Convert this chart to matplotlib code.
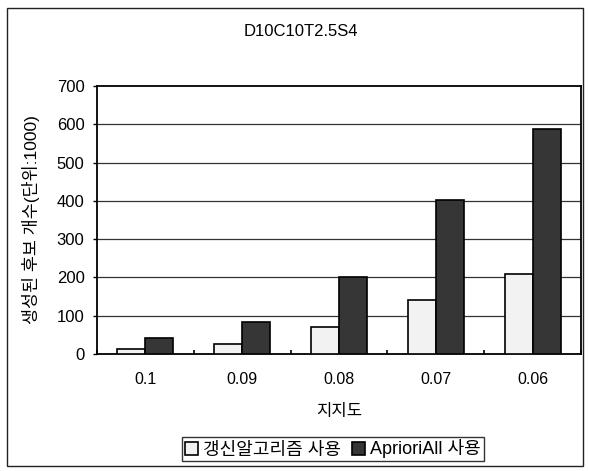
import matplotlib
matplotlib.use("Agg")
import matplotlib.pyplot as plt
from matplotlib.patches import Rectangle
import numpy as np

plt.rcParams['font.family'] = ['Liberation Sans', 'Noto Sans CJK KR', 'DejaVu Sans']

categories = ["0.1", "0.09", "0.08", "0.07", "0.06"]
series_names = ["갱신알고리즘 사용", "AprioriAll 사용"]
update_alg = [14, 27, 71, 141, 208]
apriori_all = [42, 83, 202, 402, 588]
y_ticks = [0, 100, 200, 300, 400, 500, 600, 700]

fig = plt.figure(figsize=(5.89, 4.71), dpi=100)
fig.patch.set_facecolor("white")
fig.patches.append(Rectangle((7 / 589, 1 - 466 / 471), 576 / 589, 458 / 471,
                             transform=fig.transFigure, fill=False,
                             edgecolor="#222222", linewidth=1.0))

ax = fig.add_axes([97 / 589, 1 - 354 / 471, (581 - 97) / 589, (354 - 86) / 471])
x = np.arange(len(categories))
w = 0.29
b1 = ax.bar(x - w / 2, update_alg, w, color="#f2f2f2", edgecolor="black",
            linewidth=1.2, label=series_names[0], zorder=3)
b2 = ax.bar(x + w / 2, apriori_all, w, color="#363636", edgecolor="black",
            linewidth=1.2, label=series_names[1], zorder=3)

ax.set_xlim(-0.5, len(categories) - 0.5)
ax.set_ylim(0, 700)
ax.set_yticks(y_ticks)
ax.set_yticklabels([str(v) for v in y_ticks], fontsize=12)
ax.set_xticks(x)
ax.set_xticklabels(categories, fontsize=11.5)
ax.set_xticks(np.arange(len(categories) + 1) - 0.5, minor=True)
ax.tick_params(axis="x", which="major", length=0, pad=13)
ax.tick_params(axis="x", which="minor", direction="in", length=3, width=1.2)
ax.tick_params(axis="y", length=3, width=1, pad=6)

for v in y_ticks[1:-1]:
    ax.axhline(v, color="#333333", linewidth=0.9, zorder=1)

for s in ax.spines.values():
    s.set_linewidth(1.3)
    s.set_color("black")

ax.set_xlabel("지지도", fontsize=12, labelpad=12)
ax.set_ylabel("생성된 후보 개수(단위:1000)", fontsize=12.5, labelpad=12)
fig.text(0.51, 1 - 31 / 471, "D10C10T2.5S4", ha="center", va="center", fontsize=12)

leg = fig.legend(handles=[b1, b2], labels=series_names, loc="center",
                 bbox_to_anchor=(333 / 589, 1 - 449 / 471), ncol=2,
                 fontsize=13, frameon=True, fancybox=False, edgecolor="black",
                 handlelength=0.7, handleheight=0.7, handletextpad=0.3,
                 columnspacing=0.6, borderpad=0.15, borderaxespad=0)
leg.get_frame().set_linewidth(1.0)

fig.savefig("out.png", dpi=100)
